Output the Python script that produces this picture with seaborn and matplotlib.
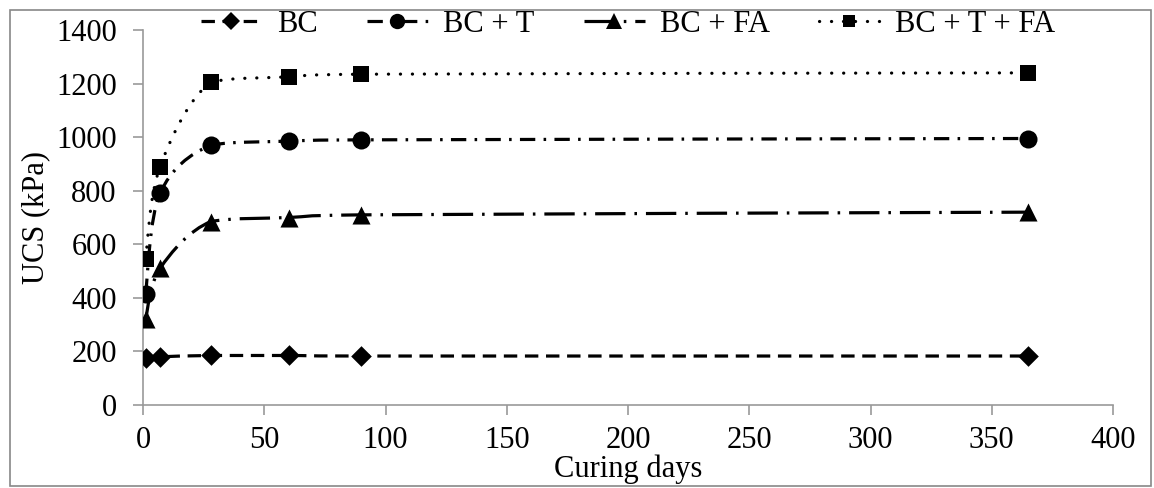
import numpy as np
import pandas as pd
import matplotlib
matplotlib.use("Agg")
import matplotlib.pyplot as plt
from matplotlib.path import Path
from matplotlib.patches import PathPatch, Rectangle
from matplotlib.lines import Line2D
import seaborn as sns

# Curing time (days) and unconfined compressive strength (kPa)
days = [1, 7, 28, 60, 90, 365]
ucs_bc = [175, 180, 185, 185, 183, 183]
ucs_bc_t = [415, 790, 970, 985, 990, 995]
ucs_bc_fa = [320, 510, 685, 700, 710, 720]
ucs_bc_t_fa = [545, 890, 1205, 1225, 1235, 1240]
series_names = ["BC", "BC + T", "BC + FA", "BC + T + FA"]

df = pd.DataFrame({
    "days": days * 4,
    "ucs": ucs_bc + ucs_bc_t + ucs_bc_fa + ucs_bc_t_fa,
    "mix": sum([[n] * len(days) for n in series_names], []),
})

sns.set_theme(style="white")
plt.rcParams["font.family"] = ["Liberation Serif", "DejaVu Serif"]
plt.rcParams["text.color"] = "black"
plt.rcParams["axes.labelcolor"] = "black"
FS = 22

fig = plt.figure(figsize=(11.54, 4.88), dpi=100)
ax = fig.add_axes([0.124, 0.170, 0.8405, 0.7685])

styles = {
    "BC": dict(marker="D", ms=10.5, dashes=(4.2, 2.4), cap="butt"),
    "BC + T": dict(marker="o", ms=13, dashes=(4.8, 2.6, 0.8, 2.6), cap="butt"),
    "BC + FA": dict(marker="^", ms=13, dashes=(9.5, 2.8, 0.8, 2.8), cap="butt"),
    "BC + T + FA": dict(marker="s", ms=11, dashes=(0.05, 3.7), cap="round"),
}
lw = 2.3


def smooth_path(x, y):
    # Cubic Bezier segments through the points, with control points kept
    # inside each segment's value range so the curve does not overshoot
    pts = np.column_stack([x, y]).astype(float)
    verts = [pts[0]]
    codes = [Path.MOVETO]
    n = len(pts)
    for i in range(n - 1):
        p0 = pts[i - 1] if i > 0 else pts[i]
        p1 = pts[i]
        p2 = pts[i + 1]
        p3 = pts[i + 2] if i + 2 < n else pts[i + 1]
        c1 = p1 + (p2 - p0) / 6.0
        c2 = p2 - (p3 - p1) / 6.0
        lo, hi = min(p1[1], p2[1]), max(p1[1], p2[1])
        lx, hx = p1[0], p2[0]
        for c in (c1, c2):
            c[1] = np.clip(c[1], lo, hi)
            c[0] = np.clip(c[0], lx, hx)
        verts += [c1, c2, p2]
        codes += [Path.CURVE4] * 3
    return Path(verts, codes)


handles = []
for name in series_names:
    sub = df[df["mix"] == name]
    st = styles[name]
    patch = PathPatch(smooth_path(sub["days"].values, sub["ucs"].values),
                      facecolor="none", edgecolor="black", lw=lw,
                      linestyle=(0, st["dashes"]), capstyle=st["cap"],
                      zorder=2)
    ax.add_patch(patch)
    sns.scatterplot(data=sub, x="days", y="ucs", ax=ax, color="black",
                    marker=st["marker"], s=st["ms"] ** 2, edgecolor="black",
                    linewidth=0, zorder=3, legend=False)
    h = Line2D([], [], color="black", lw=lw, marker=st["marker"],
               markersize=st["ms"] * 0.85, markeredgewidth=0,
               dashes=st["dashes"], dash_capstyle=st["cap"])
    handles.append(h)

ax.set_xlim(0, 400)
ax.set_ylim(0, 1400)
ax.set_xticks(np.arange(0, 401, 50))
ax.set_yticks(np.arange(0, 1401, 200))
ax.tick_params(axis="both", labelsize=FS, labelcolor="black", color="#999999",
               length=7, width=1.2, direction="out", bottom=True, left=True)
ax.tick_params(axis="x", pad=8)
ax.tick_params(axis="y", pad=12)
ax.set_xlabel("Curing days", fontsize=FS, labelpad=0, color="black")
ax.set_ylabel("UCS (kPa)", fontsize=FS, labelpad=4, color="black")
for s in ["top", "right"]:
    ax.spines[s].set_visible(False)
for s in ["left", "bottom"]:
    ax.spines[s].set_color("#999999")
    ax.spines[s].set_linewidth(1.2)

ax.legend(handles, series_names, loc="center", ncol=4, frameon=False,
          fontsize=FS, bbox_to_anchor=(0.5, 1.015), handlelength=2.0,
          columnspacing=1.6, handletextpad=0.5, borderpad=0)

fig.patches.append(Rectangle((0.0087, 0.004), 0.9887, 0.9755,
                             transform=fig.transFigure, fill=False,
                             edgecolor="#888888", lw=1.2))

fig.savefig("out.png", dpi=100)
